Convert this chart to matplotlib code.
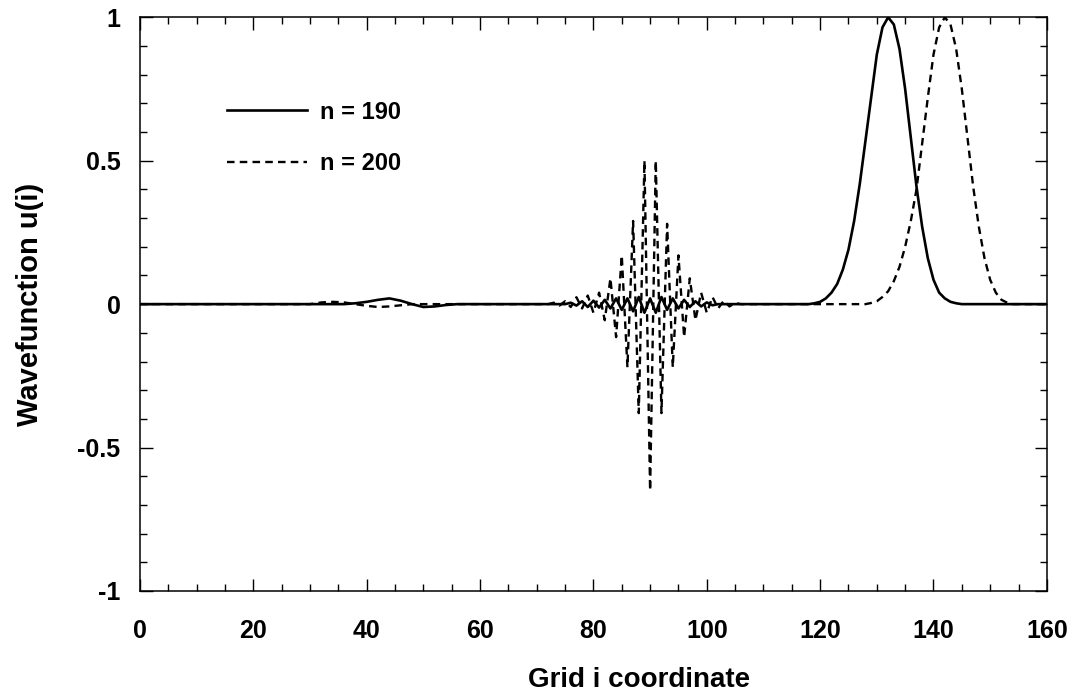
import matplotlib
matplotlib.use("Agg")
import matplotlib.pyplot as plt
from matplotlib.ticker import MultipleLocator, FuncFormatter

# grid points and wavefunction values (zero elsewhere)
i_190 = [0, 36, 38, 40, 42, 44, 46, 48, 50, 52, 54, 56,
         75, 76, 77, 78, 79, 80, 81, 82, 83, 84, 85, 86, 87, 88, 89, 90,
         91, 92, 93, 94, 95, 96, 97, 98, 99, 100, 101, 102,
         118, 119, 120, 121, 122, 123, 124, 125, 126, 127, 128, 129, 130,
         131, 132, 133, 134, 135, 136, 137, 138, 139, 140, 141, 142, 143,
         144, 145, 160]
u_190 = [0.0, 0.0, 0.003, 0.008, 0.015, 0.02, 0.012, 0.0, -0.01, -0.008, -0.003, 0.0,
         0.0, 0.005, -0.005, 0.01, -0.01, 0.012, -0.012, 0.015, -0.015, 0.02, -0.02, 0.02,
         -0.025, 0.025, -0.03, 0.02, -0.03, 0.025, -0.02, 0.02, -0.015, 0.015, -0.01,
         0.01, -0.008, 0.006, -0.004, 0.0,
         0.0, 0.003, 0.008, 0.02, 0.04, 0.07, 0.12, 0.19, 0.29, 0.42, 0.57, 0.72, 0.87,
         0.965, 1.0, 0.975, 0.89, 0.75, 0.58, 0.41, 0.27, 0.16, 0.085, 0.04, 0.02, 0.008,
         0.003, 0.0, 0.0]

i_200 = [0, 30, 32, 34, 36, 38, 40, 42, 44, 46, 48,
         72, 73, 74, 75, 76, 77, 78, 79, 80, 81, 82, 83, 84, 85, 86, 87, 88, 89,
         90, 91, 92, 93, 94, 95, 96, 97, 98, 99, 100, 101, 102, 103, 104, 105, 106,
         128, 129, 130, 131, 132, 133, 134, 135, 136, 137, 138, 139, 140, 141,
         142, 143, 144, 145, 146, 147, 148, 149, 150, 151, 152, 153, 154, 160]
u_200 = [0.0, 0.0, 0.006, 0.008, 0.006, 0.0, -0.006, -0.01, -0.008, -0.004, 0.0,
         0.0, 0.005, -0.005, 0.01, -0.01, 0.024, -0.015, 0.03, -0.03, 0.04, -0.056,
         0.09, -0.115, 0.17, -0.22, 0.29, -0.38, 0.50, -0.65, 0.50, -0.38, 0.28,
         -0.22, 0.17, -0.115, 0.09, -0.056, 0.04, -0.03, 0.025, -0.015, 0.012,
         -0.008, 0.004, 0.0,
         0.0, 0.004, 0.01, 0.025, 0.045, 0.08, 0.13, 0.20, 0.29, 0.40, 0.56, 0.72,
         0.87, 0.965, 1.0, 0.975, 0.89, 0.75, 0.58, 0.41, 0.27, 0.16, 0.085, 0.04,
         0.015, 0.005, 0.0, 0.0]

plt.rcParams['font.family'] = ['Liberation Sans', 'DejaVu Sans']

fig = plt.figure(figsize=(10.77, 6.92), dpi=100)
ax = fig.add_axes([0.130, 0.146, 0.842, 0.829])

ax.plot(i_190, u_190, color='black', lw=1.9, label='n = 190')
ax.plot(i_200, u_200, color='black', lw=1.7, ls=(0, (3.2, 2.2)), label='n = 200')

ax.set_xlim(0, 160)
ax.set_ylim(-1, 1)
ax.xaxis.set_major_locator(MultipleLocator(20))
ax.xaxis.set_minor_locator(MultipleLocator(5))
ax.yaxis.set_major_locator(MultipleLocator(0.5))
ax.yaxis.set_minor_locator(MultipleLocator(0.1))
ax.yaxis.set_major_formatter(FuncFormatter(lambda v, p: '%g' % v))
ax.tick_params(which='both', direction='in', top=True, right=True, width=1.0)
ax.tick_params(which='major', length=9, labelsize=18)
ax.tick_params(axis='x', which='major', pad=20)
ax.tick_params(axis='y', which='major', pad=14)
ax.tick_params(which='minor', length=5)
for lab in ax.get_xticklabels() + ax.get_yticklabels():
    lab.set_fontweight('bold')
for s in ax.spines.values():
    s.set_linewidth(1.1)

ax.set_xlabel('Grid i coordinate', fontsize=20, fontweight='bold')
ax.xaxis.set_label_coords(0.55, -0.132)
ax.set_ylabel('Wavefunction u(i)', fontsize=21, fontweight='bold', labelpad=24)

ax.legend(loc='upper left', bbox_to_anchor=(0.072, 0.892), frameon=False,
          handlelength=3.4, labelspacing=1.2, handletextpad=0.55,
          prop={'weight': 'bold', 'size': 17})

fig.savefig('out.png', dpi=100)
